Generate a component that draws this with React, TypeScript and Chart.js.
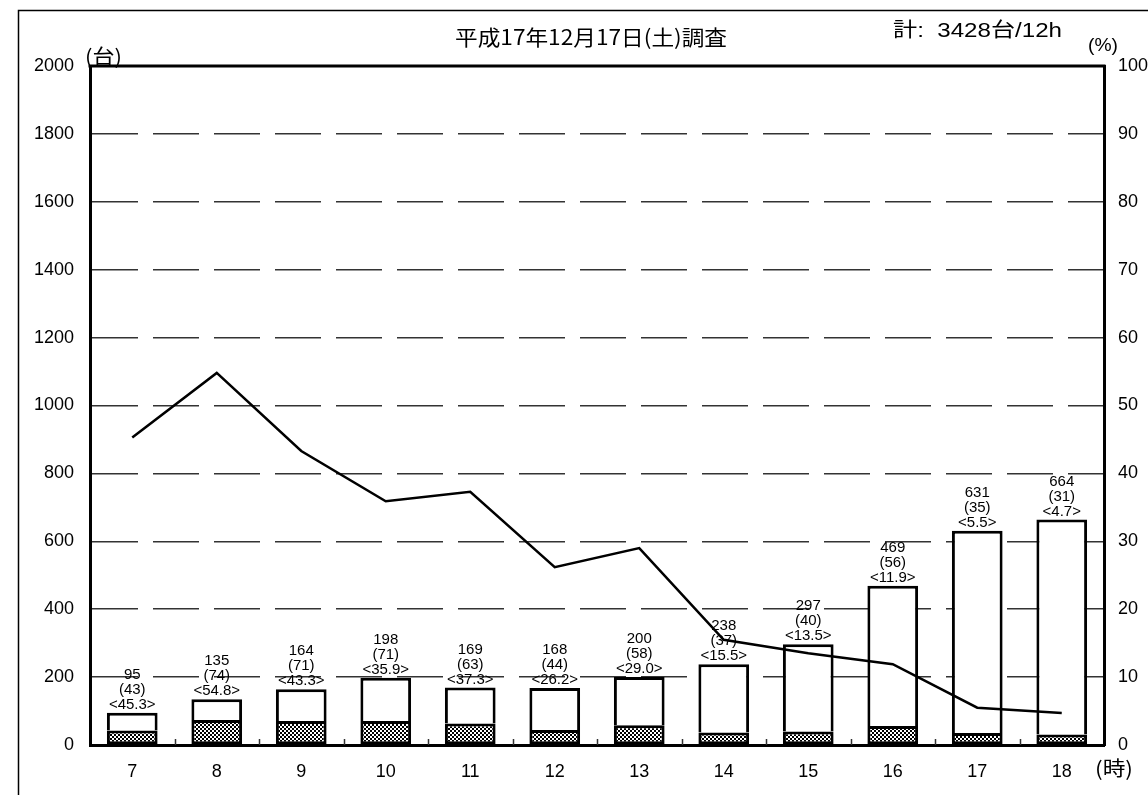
import React, { useEffect, useRef } from 'react';
import { Chart, registerables } from 'chart.js';

Chart.register(...registerables);

// ---- data ----
const hours = ['7', '8', '9', '10', '11', '12', '13', '14', '15', '16', '17', '18'];
const totalVolume = [95, 135, 164, 198, 169, 168, 200, 238, 297, 469, 631, 664];
const largeVehicles = [43, 74, 71, 71, 63, 44, 58, 37, 40, 56, 35, 31];
const largeRatio = [45.3, 54.8, 43.3, 35.9, 37.3, 26.2, 29.0, 15.5, 13.5, 11.9, 5.5, 4.7];

const titleText = '平成17年12月17日(土)調査';
const totalNote = '計:  3428台/12h';
const leftUnit = '(台)';
const rightUnit = '(%)';
const xUnit = '(時)';

const SANS = "'Liberation Sans', Arial, 'Noto Sans CJK JP', sans-serif";
const CJK = "'Noto Sans CJK JP', 'Liberation Sans', sans-serif";

function makePattern(): CanvasPattern | string {
  const c = document.createElement('canvas');
  c.width = 4;
  c.height = 4;
  const g = c.getContext('2d');
  if (!g) return '#777';
  g.fillStyle = '#ffffff';
  g.fillRect(0, 0, 4, 4);
  g.fillStyle = '#000000';
  g.fillRect(0, 0, 2, 2);
  g.fillRect(2, 2, 2, 2);
  const p = g.createPattern(c, 'repeat');
  return p || '#777';
}

function drawFitText(ctx: CanvasRenderingContext2D, text: string, x: number, y: number, width: number, font: string) {
  ctx.save();
  ctx.font = font;
  const w = ctx.measureText(text).width;
  ctx.translate(x, y);
  ctx.scale(width / w, 1);
  ctx.textAlign = 'left';
  ctx.textBaseline = 'middle';
  ctx.fillStyle = '#000';
  ctx.fillText(text, 0, 0);
  ctx.restore();
}

const decorPlugin = {
  id: 'decor',
  beforeDraw(chart: any) {
    const ctx: CanvasRenderingContext2D = chart.ctx;
    ctx.save();
    ctx.fillStyle = '#fff';
    ctx.fillRect(0, 0, chart.width, chart.height);
    ctx.restore();
  },
  afterDatasetsDraw(chart: any) {
    const ctx: CanvasRenderingContext2D = chart.ctx;
    const area = chart.chartArea;
    const xs = chart.scales.x;
    // bar value labels
    const metaTop = chart.getDatasetMeta(1);
    ctx.save();
    ctx.fillStyle = '#000';
    ctx.font = `15px ${SANS}`;
    ctx.textAlign = 'center';
    ctx.textBaseline = 'middle';
    metaTop.data.forEach((el: any, i: number) => {
      const x = el.x;
      const yTop = el.y;
      ctx.fillText(String(totalVolume[i]), x, yTop - 38);
      ctx.fillText(`(${largeVehicles[i]})`, x, yTop - 23);
      ctx.fillText(`<${largeRatio[i].toFixed(1)}>`, x, yTop - 8);
    });
    ctx.restore();

    // inward tick marks between categories
    ctx.save();
    ctx.strokeStyle = '#333';
    ctx.lineWidth = 1.5;
    for (let i = 1; i < hours.length; i++) {
      const x = Math.round((xs.getPixelForValue(i - 1) + xs.getPixelForValue(i)) / 2) + 0.5;
      ctx.beginPath();
      ctx.moveTo(x, area.bottom);
      ctx.lineTo(x, area.bottom - 6);
      ctx.stroke();
    }
    // top border of plot
    ctx.strokeStyle = '#000';
    ctx.lineWidth = 3;
    ctx.beginPath();
    ctx.moveTo(area.left - 1.5, area.top);
    ctx.lineTo(area.right + 1.5, area.top);
    ctx.stroke();
    ctx.restore();
  },
  afterDraw(chart: any) {
    const ctx: CanvasRenderingContext2D = chart.ctx;
    // outer frame (left & top visible)
    ctx.save();
    ctx.strokeStyle = '#000';
    ctx.lineWidth = 1.5;
    ctx.beginPath();
    ctx.moveTo(18.5, chart.height + 5);
    ctx.lineTo(18.5, 10.5);
    ctx.lineTo(chart.width + 5, 10.5);
    ctx.stroke();
    ctx.restore();

    drawFitText(ctx, titleText, 455, 37, 272, `21px ${CJK}`);
    drawFitText(ctx, totalNote, 893, 31, 169, `20px ${SANS}`);
    drawFitText(ctx, rightUnit, 1088, 46, 30, `18px ${SANS}`);
    drawFitText(ctx, leftUnit, 85, 56, 37, `20px ${CJK}`);
    drawFitText(ctx, xUnit, 1095, 768, 38, `20px ${CJK}`);
  },
};

export default function App() {
  const ref = useRef<HTMLCanvasElement | null>(null);

  useEffect(() => {
    if (!ref.current) return;
    const pattern = makePattern();
    const upperPart = totalVolume.map((t, i) => t - largeVehicles[i]);

    const chart = new Chart(ref.current, {
      type: 'bar',
      data: {
        labels: hours,
        datasets: [
          {
            type: 'line',
            label: '大型車混入率',
            data: largeRatio,
            yAxisID: 'y2',
            borderColor: '#000',
            borderWidth: 2.5,
            pointRadius: 0,
            fill: false,
            tension: 0,
            order: 0,
          } as any,
          {
            label: '大型車以外',
            data: upperPart,
            yAxisID: 'y',
            backgroundColor: '#ffffff',
            borderColor: '#000',
            borderWidth: 3,
            borderSkipped: 'start',
            stack: 's',
            categoryPercentage: 1,
            barPercentage: 0.6,
            order: 2,
          },
          {
            label: '大型車',
            data: largeVehicles,
            yAxisID: 'y',
            backgroundColor: pattern as any,
            borderColor: '#000',
            borderWidth: 3,
            borderSkipped: false,
            stack: 's',
            categoryPercentage: 1,
            barPercentage: 0.6,
            order: 1,
          },
        ],
      },
      options: {
        responsive: false,
        animation: false,
        events: [],
        layout: { padding: { top: 66, left: 0, right: 0, bottom: 0 } },
        plugins: {
          legend: { display: false },
          tooltip: { enabled: false },
          title: { display: false },
        },
        scales: {
          x: {
            type: 'category',
            stacked: true,
            offset: true,
            grid: { display: false, drawTicks: false, tickLength: 0 },
            border: { display: true, color: '#000', width: 3 },
            ticks: { color: '#000', font: { size: 18, family: SANS }, padding: 16, maxRotation: 0 },
            afterFit: (s: any) => {
              s.height = 50;
            },
          },
          y: {
            type: 'linear',
            position: 'left',
            stacked: true,
            min: 0,
            max: 2000,
            ticks: {
              stepSize: 200,
              color: '#000',
              font: { size: 18, family: SANS },
              padding: 16,
              callback: (v: any) => String(v),
            },
            grid: {
              color: (c: any) =>
                c.tick && (c.tick.value === 0 || c.tick.value === 2000) ? 'rgba(0,0,0,0)' : '#333',
              lineWidth: 1.5,
              drawTicks: false,
              tickLength: 0,
            },
            border: { display: true, color: '#000', width: 3, dash: [46, 15] },
            afterFit: (s: any) => {
              s.width = 90;
            },
          },
          y2: {
            type: 'linear',
            position: 'right',
            min: 0,
            max: 100,
            ticks: {
              stepSize: 10,
              color: '#000',
              font: { size: 18, family: SANS },
              padding: 14,
              callback: (v: any) => String(v),
            },
            grid: { display: false, drawTicks: false, tickLength: 0 },
            border: { display: true, color: '#000', width: 3 },
            afterFit: (s: any) => {
              s.width = 44;
            },
          },
        },
      },
      plugins: [decorPlugin],
    });
    return () => chart.destroy();
  }, []);

  return (
    <div style={{ position: 'absolute', left: 0, top: 0, width: 1148, height: 795 }}>
      <canvas ref={ref} width={1148} height={795} style={{ display: 'block' }} />
    </div>
  );
}
